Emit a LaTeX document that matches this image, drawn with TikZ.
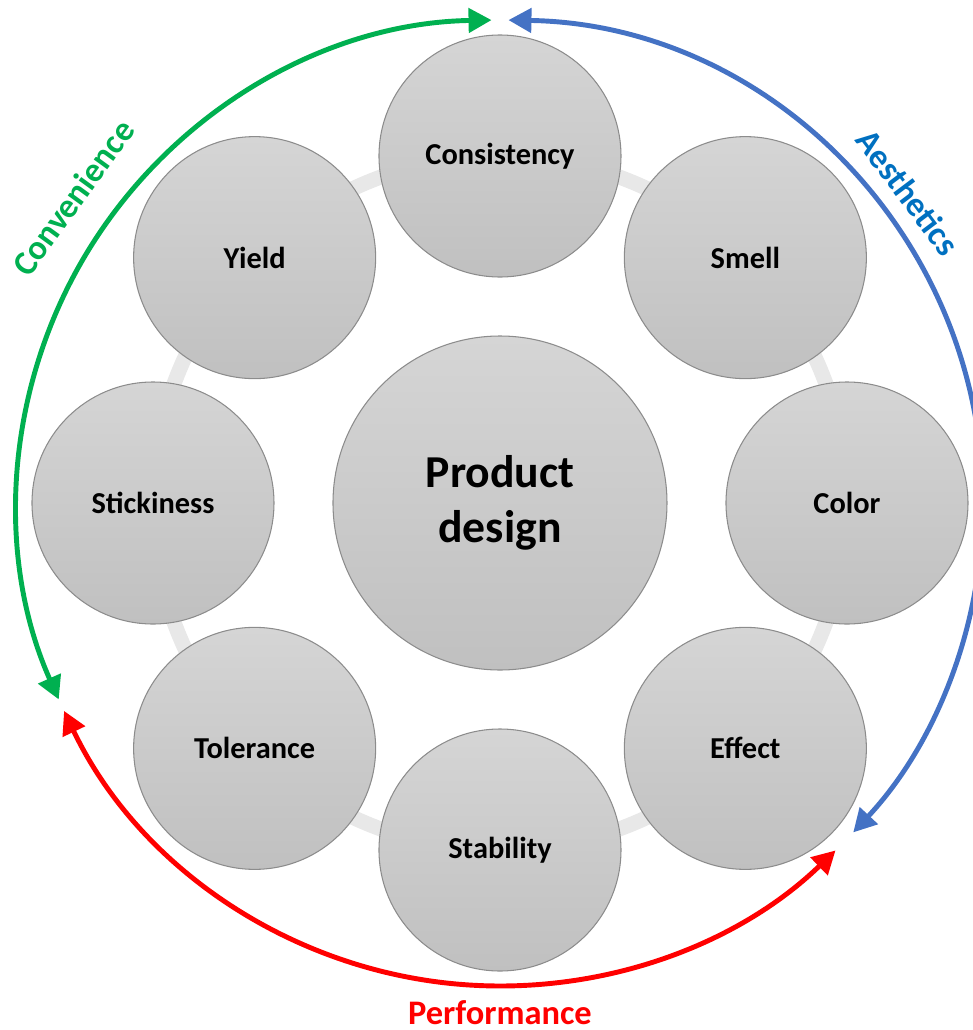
\documentclass[tikz,border=0pt]{standalone}
\usepackage{fontspec}
\setmainfont{Carlito}
\usetikzlibrary{arrows.meta}

\definecolor{ringgray}{HTML}{E8E8E8}
\definecolor{edgegray}{HTML}{8C8C8C}
\definecolor{lightfill}{HTML}{D5D5D5}
\definecolor{darkfill}{HTML}{C0C0C0}
\definecolor{convgreen}{HTML}{00B050}
\definecolor{aesblue}{HTML}{4472C4}
\definecolor{aestext}{HTML}{0070C0}
\definecolor{perfred}{HTML}{FF0000}

\tikzset{
  factor/.style={circle, draw=edgegray, line width=0.6pt, top color=lightfill, bottom color=darkfill,
    minimum size=4.84cm, inner sep=0pt, font=\bfseries\fontsize{17.3}{20}\selectfont},
  core/.style={factor, minimum size=6.68cm, align=center, font=\bfseries\fontsize{26}{31}\selectfont},
  span/.style={line width=2.8pt, {Triangle[length=0.46cm,width=0.48cm]}-{Triangle[length=0.46cm,width=0.48cm]}},
  spanlabel/.style={inner sep=1pt, font=\bfseries\fontsize{19.6}{22}\selectfont}
}

\begin{document}
\begin{tikzpicture}
  \useasboundingbox (-10,-10.54) rectangle (9.46,10.06);

  % ring behind the circles
  \draw[ringgray, line width=0.3cm] (0,0) circle (6.94);

  \node[core] (design) at (0,0) {Product\\design};

  \node[factor] (consistency) at (90:6.94) {Consistency};
  \node[factor] (smell) at (45:6.94) {Smell};
  \node[factor] (color) at (0:6.94) {Color};
  \node[factor] (effect) at (-45:6.94) {Effect};
  \node[factor] (stability) at (-90:6.94) {Stability};
  \node[factor] (tolerance) at (-135:6.94) {Tolerance};
  \node[factor] (stickiness) at (180:6.94) {Stickiness};
  \node[factor] (yield) at (135:6.94) {Yield};

  % outer arcs
  \draw[span, convgreen] (91:9.66) arc[start angle=91, end angle=204, radius=9.66];
  \draw[span, aesblue] (89:9.66) arc[start angle=89, end angle=-43, radius=9.66];
  \draw[span, perfred] (205.5:9.66) arc[start angle=205.5, end angle=314, radius=9.66];

  \node[spanlabel, convgreen, rotate=54] (convenience) at (144.4:10.5) {Convenience};
  \node[spanlabel, aestext, rotate=-53] (aesthetics) at (37.3:10.26) {Aesthetics};
  \node[spanlabel, perfred] (performance) at (0,-10.2) {Performance};
\end{tikzpicture}
\end{document}
